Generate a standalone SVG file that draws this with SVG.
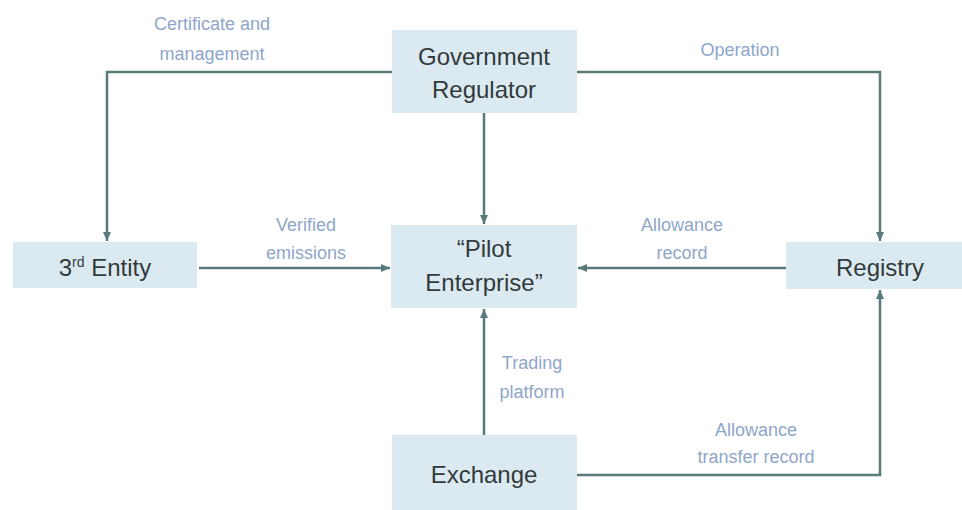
<svg xmlns="http://www.w3.org/2000/svg" width="962" height="510" viewBox="0 0 962 510">
<style>
.box{fill:#dbeaf1;}
.nt{font-family:"Liberation Sans",Arial,sans-serif;font-size:24px;fill:#333a3c;text-anchor:middle;}
.lb{font-family:"Liberation Sans",Arial,sans-serif;font-size:18px;fill:#8ea6cb;text-anchor:middle;}
.cn{fill:none;stroke:#587a7b;stroke-width:2.5;}
</style>
<defs>
<marker id="ah" markerUnits="userSpaceOnUse" markerWidth="10" markerHeight="10" refX="9" refY="5" orient="auto">
<path d="M0,1 L9,5 L0,9 Z" fill="#587a7b"/>
</marker>
</defs>
<rect width="962" height="510" fill="#ffffff"/>
<g id="connectors">
<path class="cn" d="M392,72 H107 V241" marker-end="url(#ah)"/>
<path class="cn" d="M577,72 H880 V241" marker-end="url(#ah)"/>
<path class="cn" d="M484,113 V224" marker-end="url(#ah)"/>
<path class="cn" d="M199,268 H390" marker-end="url(#ah)"/>
<path class="cn" d="M786,268 H578" marker-end="url(#ah)"/>
<path class="cn" d="M484,435 V309" marker-end="url(#ah)"/>
<path class="cn" d="M577,475 H880 V290" marker-end="url(#ah)"/>
</g>
<g id="labels">
<text class="lb" x="212" y="30">Certificate and</text>
<text class="lb" x="212" y="60">management</text>
<text class="lb" x="740" y="56">Operation</text>
<text class="lb" x="306" y="231">Verified</text>
<text class="lb" x="306" y="259">emissions</text>
<text class="lb" x="682" y="231">Allowance</text>
<text class="lb" x="682" y="259">record</text>
<text class="lb" x="532" y="369">Trading</text>
<text class="lb" x="532" y="398">platform</text>
<text class="lb" x="756" y="436">Allowance</text>
<text class="lb" x="756" y="463">transfer record</text>
</g>
<g id="gov">
<rect class="box" x="392" y="30" width="185" height="83"/>
<text class="nt" x="484" y="65">Government</text>
<text class="nt" x="484" y="98">Regulator</text>
</g>
<g id="entity">
<rect class="box" x="13" y="242" width="184" height="46"/>
<text class="nt" x="105" y="276">3<tspan font-size="14" dy="-9">rd</tspan><tspan dy="9"> Entity</tspan></text>
</g>
<g id="pilot">
<rect class="box" x="391" y="225" width="186" height="83"/>
<text class="nt" x="484" y="257">“Pilot</text>
<text class="nt" x="484" y="291">Enterprise”</text>
</g>
<g id="registry">
<rect class="box" x="786" y="242" width="180" height="47"/>
<text class="nt" x="880" y="276">Registry</text>
</g>
<g id="exchange">
<rect class="box" x="392" y="435" width="185" height="75"/>
<text class="nt" x="484" y="483">Exchange</text>
</g>
</svg>
